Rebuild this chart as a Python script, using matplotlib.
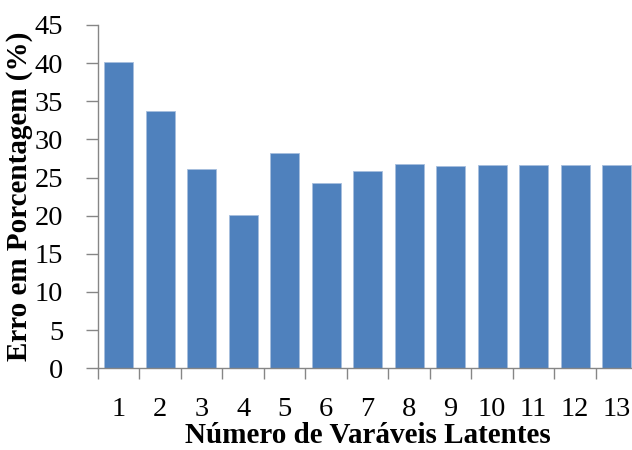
import numpy as np
import matplotlib.pyplot as plt

plt.rcParams['font.family'] = ['Liberation Serif', 'DejaVu Serif']

n_vars = np.arange(1, 14)
erro = [40.2, 33.7, 26.1, 20.15, 28.25, 24.3, 25.8, 26.75, 26.55, 26.65, 26.65, 26.65, 26.65]

grey = '#868686'

fig = plt.figure(figsize=(6.32, 4.5), dpi=100)
ax = fig.add_axes([0.155, 0.1816, 0.8535, 0.763])

ax.bar(n_vars, erro, width=0.7, color='#4F81BD', edgecolor='#A7BEDE', linewidth=0.6)

ax.set_xlim(0.5, 13.5)
ax.set_ylim(0, 45)
ax.set_yticks(np.arange(0, 46, 5))

# boundaries get the tick marks, centres carry the labels
ax.set_xticks(np.arange(0.5, 14, 1))
ax.set_xticklabels([])
ax.set_xticks(n_vars, minor=True)
ax.set_xticklabels([str(v) for v in n_vars], minor=True)

ax.tick_params(axis='x', which='major', length=8, color=grey, width=1)
ax.tick_params(axis='x', which='minor', length=0, pad=21, labelsize=20.5)
ax.tick_params(axis='y', length=9, color=grey, width=1, pad=16, labelsize=20.5)

for side in ('top', 'right'):
    ax.spines[side].set_visible(False)
for side in ('left', 'bottom'):
    ax.spines[side].set_color(grey)
    ax.spines[side].set_linewidth(1)

ax.set_xlabel('Número de Varáveis Latentes', fontsize=21, fontweight='bold', labelpad=0)
ax.set_ylabel('Erro em Porcentagem (%)', fontsize=21, fontweight='bold', labelpad=1)

fig.savefig('out.png', dpi=100)
